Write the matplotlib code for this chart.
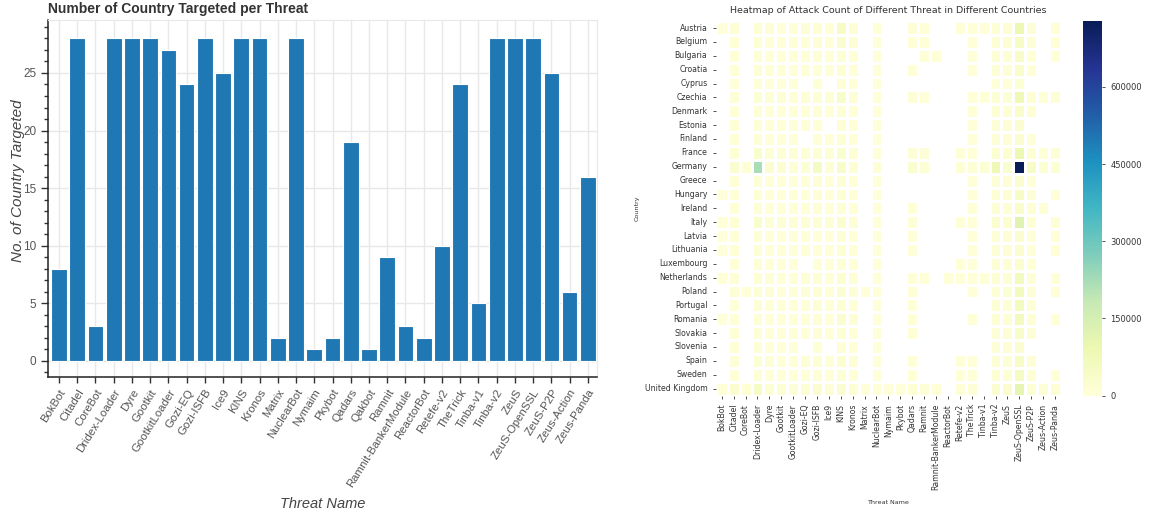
import numpy as np
import pandas as pd
import matplotlib
matplotlib.use("Agg")
import matplotlib.pyplot as plt
import seaborn as sns
from matplotlib.ticker import MultipleLocator

# ---- left chart data: number of countries targeted per threat ----
threats = ['BokBot', 'Citadel', 'CoreBot', 'Dridex-Loader', 'Dyre', 'Gootkit', 'GootkitLoader',
           'Gozi-EQ', 'Gozi-ISFB', 'Ice9', 'KINS', 'Kronos', 'Matrix', 'NuclearBot', 'Nymaim',
           'Pkybot', 'Qadars', 'Qakbot', 'Ramnit', 'Ramnit-BankerModule', 'ReactorBot', 'Retefe-v2',
           'TheTrick', 'Tinba-v1', 'Tinba-v2', 'ZeuS', 'ZeuS-OpenSSL', 'ZeuS-P2P', 'Zeus-Action',
           'Zeus-Panda']
country_counts = [8, 28, 3, 28, 28, 28, 27, 24, 28, 25, 28, 28, 2, 28, 1,
                  2, 19, 1, 9, 3, 2, 10, 24, 5, 28, 28, 28, 25, 6, 16]

# ---- right chart data: attack count per country / threat ----
hm_threats = ['BokBot', 'Citadel', 'CoreBot', 'Dridex-Loader', 'Dyre', 'Gootkit', 'GootkitLoader',
              'Gozi-EQ', 'Gozi-ISFB', 'Ice9', 'KINS', 'Kronos', 'Matrix', 'NuclearBot', 'Nymaim',
              'Pkybot', 'Qadars', 'Ramnit', 'Ramnit-BankerModule', 'ReactorBot', 'Retefe-v2',
              'TheTrick', 'Tinba-v1', 'Tinba-v2', 'ZeuS', 'ZeuS-OpenSSL', 'ZeuS-P2P', 'Zeus-Action',
              'Zeus-Panda']
countries = ['Austria', 'Belgium', 'Bulgaria', 'Croatia', 'Cyprus', 'Czechia', 'Denmark', 'Estonia',
             'Finland', 'France', 'Germany', 'Greece', 'Hungary', 'Ireland', 'Italy', 'Latvia',
             'Lithuania', 'Luxembourg', 'Netherlands', 'Poland', 'Portugal', 'Romania', 'Slovakia',
             'Slovenia', 'Spain', 'Sweden', 'United Kingdom']
n = np.nan
attack_counts = [
    [4000, 9000, n, 14000, 9000, 8000, 7000, 9000, 12000, 8000, 45000, 10000, n, 6000, n, n, 9000, 8000, n, n, 7000, 6000, 5000, 13000, 14000, 90000, 10000, n, 6000],
    [n, 8000, n, 12000, 8000, 7000, 7000, 8000, 11000, 7000, 20000, 9000, n, 5000, n, n, 7000, 6000, n, n, n, 5000, n, 12000, 13000, 40000, 9000, n, 6000],
    [n, 7000, n, 10000, 7000, 6000, 6000, 7000, 9000, 6000, 15000, 8000, n, 5000, n, n, n, 7000, 6000, n, n, 5000, n, 11000, 12000, 35000, 8000, n, 6000],
    [n, 6000, n, 9000, 6000, 6000, 5000, 6000, 8000, 5000, 12000, 7000, n, 4000, n, n, 6000, n, n, n, n, 5000, n, 10000, 11000, 30000, 8000, n, n],
    [n, 5000, n, 7000, 5000, 5000, 4000, n, 6000, n, 9000, 6000, n, 4000, n, n, n, n, n, n, n, n, n, 8000, 8000, 15000, n, n, n],
    [n, 9000, n, 16000, 10000, 9000, 8000, 10000, 14000, 9000, 35000, 10000, n, 6000, n, n, 9000, 8000, n, n, n, 7000, 6000, 15000, 16000, 85000, 12000, 7000, 9000],
    [n, 7000, n, 11000, 7000, 7000, 6000, 7000, 10000, 6000, 14000, 8000, n, 5000, n, n, n, n, n, n, n, 6000, n, 12000, 12000, 30000, 9000, n, n],
    [n, 6000, n, 9000, 6000, 6000, 5000, 6000, 8000, n, 11000, 7000, n, 4000, n, n, n, n, n, n, n, 5000, n, 10000, 10000, 20000, n, n, n],
    [n, 6000, n, 10000, 6000, 6000, 5000, n, 8000, 6000, 12000, 7000, n, 4000, n, n, n, n, n, n, n, 5000, n, 10000, 11000, 22000, 8000, n, n],
    [n, 12000, n, 30000, 12000, 10000, 9000, 11000, 16000, 10000, 25000, 12000, n, 7000, n, n, 10000, 9000, n, n, 8000, 8000, n, 18000, 18000, 90000, 14000, 8000, 10000],
    [n, 25000, 10000, 220000, 22000, 18000, 12000, 15000, 50000, 14000, 35000, 14000, n, 9000, n, n, 28000, 15000, n, n, 10000, 12000, 15000, 85000, 25000, 728000, 40000, 15000, 16000],
    [n, 6000, n, 10000, 6000, 6000, 5000, 6000, 9000, 6000, 11000, 7000, n, 4000, n, n, n, n, n, n, n, 5000, n, 10000, 10000, 20000, 8000, n, n],
    [5000, 8000, n, 12000, 8000, 7000, 7000, 8000, 11000, 7000, 16000, 8000, n, 5000, n, n, n, n, n, n, n, 6000, n, 12000, 13000, 40000, 9000, n, 7000],
    [n, 7000, n, 10000, 7000, 7000, 6000, 7000, 10000, 6000, 12000, 8000, n, 5000, n, n, 6000, n, n, n, n, 6000, n, 11000, 12000, 30000, 9000, 6000, n],
    [6000, 12000, n, 30000, 11000, 10000, 9000, 10000, 16000, 9000, 20000, 11000, n, 7000, n, n, 9000, n, n, n, 7000, 8000, n, 20000, 18000, 120000, 14000, n, 9000],
    [5000, 6000, n, 9000, 6000, 6000, 5000, 6000, 8000, 5000, 11000, 7000, n, 4000, n, n, 5000, n, n, n, n, 5000, n, 10000, 10000, 20000, 8000, n, 6000],
    [5000, 6000, n, 9000, 6000, 6000, 5000, 6000, 8000, 5000, 12000, 7000, n, 4000, n, n, 5000, n, n, n, n, 5000, n, 10000, 10000, 22000, 8000, n, 6000],
    [n, 6000, n, 9000, 6000, 6000, 5000, n, 8000, 5000, 10000, 7000, n, 4000, n, n, n, n, n, n, 6000, 5000, n, 10000, 10000, 22000, 8000, n, n],
    [6000, 9000, n, 14000, 9000, 8000, 8000, 9000, 12000, 8000, 18000, 9000, n, 6000, n, n, 8000, 7000, n, 6000, 7000, 7000, 6000, 14000, 14000, 60000, 10000, n, 8000],
    [n, 9000, 6000, 14000, 9000, 8000, 8000, 9000, 13000, 8000, 18000, 9000, 5000, 6000, n, n, 8000, n, n, n, n, 7000, n, 14000, 15000, 65000, 10000, n, 8000],
    [n, 7000, n, 11000, 7000, 7000, 6000, 7000, 10000, 6000, 14000, 8000, n, 5000, n, n, 6000, n, n, n, n, n, n, 12000, 12000, 55000, 9000, n, n],
    [5000, 8000, n, 13000, 8000, 8000, 7000, 8000, 12000, 7000, 20000, 9000, n, 5000, n, n, 7000, n, n, n, n, 6000, n, 13000, 14000, 60000, 10000, n, 7000],
    [n, 7000, n, 11000, 7000, 7000, 6000, 7000, 10000, 6000, 13000, 8000, n, 5000, n, n, 6000, n, n, n, n, n, n, 11000, 12000, 35000, 9000, n, n],
    [n, 6000, n, 9000, 6000, 6000, 5000, n, 8000, n, 10000, 7000, n, 4000, n, n, n, n, n, n, n, n, n, 10000, 10000, 20000, n, n, n],
    [n, 9000, n, 16000, 9000, 8000, 8000, 9000, 13000, 8000, 18000, 9000, n, 6000, n, n, 8000, n, n, n, 6000, 7000, n, 14000, 15000, 45000, 10000, n, n],
    [n, 8000, n, 12000, 8000, 7000, 7000, 8000, 11000, 7000, 15000, 8000, n, 5000, n, n, 7000, n, n, n, 6000, 6000, n, 13000, 13000, 50000, 9000, n, 7000],
    [8000, 20000, 8000, 40000, 15000, 12000, 10000, 12000, 20000, 10000, 25000, 13000, 6000, 8000, 5000, 5000, 12000, 10000, 6000, n, 8000, 9000, n, 20000, 20000, 110000, 15000, 9000, 12000],
]
heat = pd.DataFrame(np.array(attack_counts, dtype=float), index=countries, columns=hm_threats)

fig = plt.figure(figsize=(11.5, 5.13), dpi=100)

# ---------------- left: bar chart ----------------
ax1 = fig.add_axes([48/1150, 1-377/513, (597-48)/1150, (377-20)/513])
x = np.arange(len(threats))
ax1.bar(x, country_counts, width=0.86, color='#1f77b4', edgecolor='white', linewidth=0.8, zorder=3)
ax1.set_xlim(-0.6, 29.5)
ax1.set_ylim(-1.4, 29.6)
ax1.set_xticks(x)
ax1.set_xticklabels(threats, rotation=58, ha='right', rotation_mode='anchor',
                    fontsize=8.2, color='#555555', family='Liberation Sans')
ax1.yaxis.set_major_locator(MultipleLocator(5))
ax1.yaxis.set_minor_locator(MultipleLocator(1))
for lab in ax1.get_yticklabels():
    lab.set_fontsize(8.5)
    lab.set_color('#555555')
    lab.set_family('Liberation Sans')
ax1.tick_params(axis='y', which='major', length=5, width=1, color='#333333')
ax1.tick_params(axis='y', which='minor', length=3, width=1, color='#333333')
ax1.tick_params(axis='x', length=4, width=1, color='#333333')
ax1.grid(True, axis='both', which='major', color='#e8e8e8', linewidth=1, zorder=0)
for s in ['top', 'right']:
    ax1.spines[s].set_color('#e8e8e8')
for s in ['left', 'bottom']:
    ax1.spines[s].set_color('#222222')
    ax1.spines[s].set_linewidth(1.1)
ax1.set_title('Number of Country Targeted per Threat', loc='left', fontsize=10,
              fontweight='bold', color='#333333', family='Liberation Sans', pad=5)
ax1.set_ylabel('No. of Country Targeted', fontsize=11, style='italic', color='#444444',
               family='Liberation Sans')
ax1.yaxis.set_label_coords(-0.042, 0.55)
ax1.set_xlabel('Threat Name', fontsize=10.5, style='italic', color='#444444',
               family='Liberation Sans')
ax1.xaxis.set_label_coords(0.5, -0.335)

# ---------------- right: heatmap ----------------
ax2 = fig.add_axes([715.8/1150, 1-395.5/513, 345.2/1150, 374.4/513])
cax = fig.add_axes([1083/1150, 1-395.5/513, 19/1150, 374.4/513])
sns.heatmap(heat, ax=ax2, cbar_ax=cax, cmap='YlGnBu', vmin=0, vmax=heat.max().max(),
            linewidths=1, linecolor='white')
cax.yaxis.set_major_locator(MultipleLocator(150000))
cax.tick_params(labelsize=6, length=2.5, width=0.6, colors='#333333')
ax2.set_xticks(np.arange(len(hm_threats)) + 0.5)
ax2.set_xticklabels(hm_threats, rotation=90, fontsize=5.6, color='#333333')
ax2.set_yticks(np.arange(len(countries)) + 0.5)
ax2.set_yticklabels(countries, rotation=0, fontsize=5.6, color='#333333')
ax2.tick_params(length=2.5, width=0.6, colors='#333333')
ax2.set_title('Heatmap of Attack Count of Different Threat in Different Countries',
              fontsize=6.8, color='#333333', pad=6)
ax2.set_xlabel('Threat Name', fontsize=4.6, color='#333333', labelpad=7)
ax2.set_ylabel('Country', fontsize=4.6, color='#333333')

fig.savefig('out.png', dpi=100)
